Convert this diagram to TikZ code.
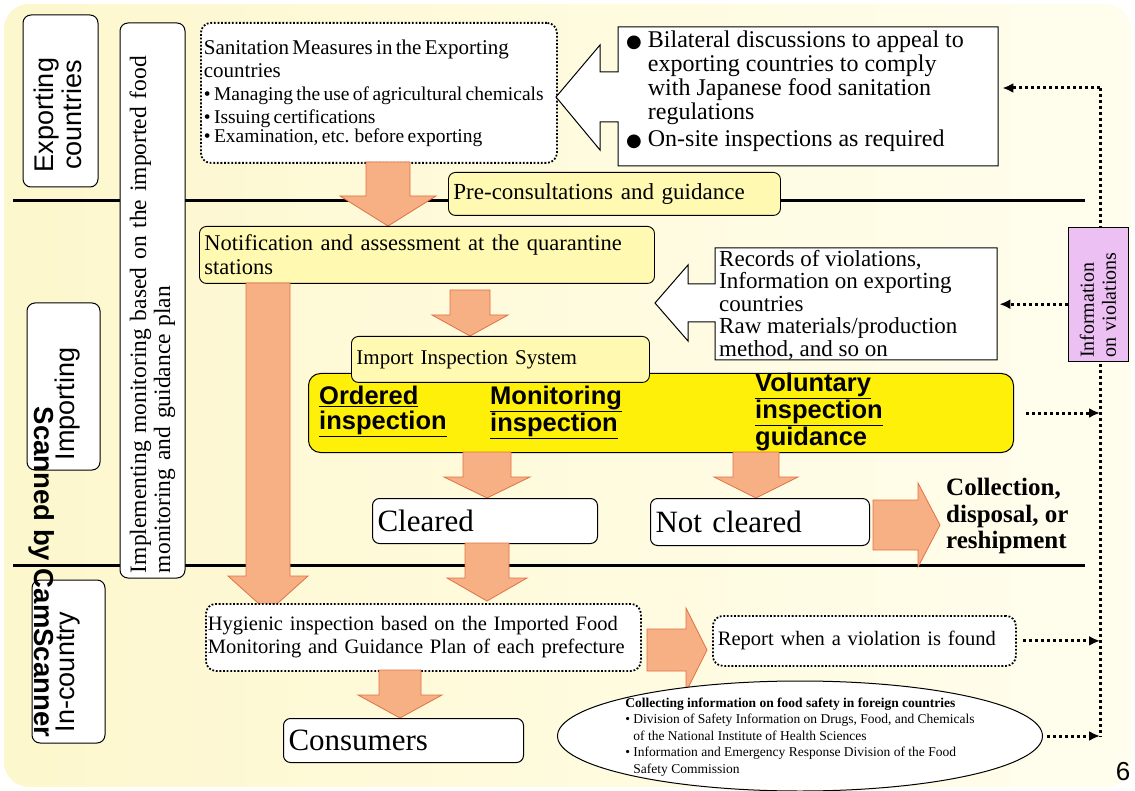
\documentclass[tikz,border=0pt]{standalone}
\usepackage{fontspec}
\setmainfont{Liberation Serif}
\setsansfont{Liberation Sans}
\newfontfamily\djv{DejaVu Sans}
\usetikzlibrary{arrows.meta,shapes.geometric}
\definecolor{bgA}{RGB}{253,247,205}
\definecolor{bgB}{RGB}{255,254,238}
\definecolor{lyel}{RGB}{255,249,178}
\definecolor{byel}{RGB}{255,240,10}
\definecolor{afill}{RGB}{246,176,132}
\definecolor{adraw}{RGB}{226,112,72}
\definecolor{pinkb}{RGB}{236,192,242}
\newcommand{\fsz}[2]{\fontsize{#1}{#2}\selectfont}
\newcommand{\dnarrow}[6]{\filldraw[barrow] ({#1-#5},#2) -- ({#1+#5},#2) -- ({#1+#5},#3) -- ({#1+#6},#3) -- (#1,#4) -- ({#1-#6},#3) -- ({#1-#5},#3) -- cycle;}
\newcommand{\rtarrow}[6]{\filldraw[barrow] (#2,{#1-#5}) -- (#3,{#1-#5}) -- (#3,{#1-#6}) -- (#4,#1) -- (#3,{#1+#6}) -- (#3,{#1+#5}) -- (#2,{#1+#5}) -- cycle;}
\tikzset{
  lane/.style={draw, rounded corners=8pt, fill=white, line width=1pt, inner sep=2pt},
  lanetxt/.style={rotate=90, inner sep=0pt, align=center, font=\sffamily\fsz{27}{28}},
  ybox/.style={draw, rounded corners=7pt, fill=lyel, line width=0.9pt, inner sep=4pt},
  wbox/.style={draw, rounded corners=7pt, fill=white, line width=1pt, inner sep=4pt},
  dbox/.style={draw, rounded corners=10pt, fill=white, line width=1.8pt, dash pattern=on 1.8pt off 1.8pt, inner sep=4pt},
  barrow/.style={fill=afill, draw=adraw, line width=0.8pt},
  dotline/.style={line width=3pt, dash pattern=on 3pt off 3pt},
  dotarrow/.style={dotline, -{Latex[length=11pt,width=10pt]}},
  plain/.style={inner sep=0pt, align=left},
  sect/.style={line width=3pt},
  insp/.style={plain, anchor=north west, font=\sffamily\bfseries\fsz{25.5}{24.5}},
}
\begin{document}
\begin{tikzpicture}[x=1pt,y=-1pt]
\path[use as bounding box] (0,0) rectangle (1135,791);
\shade[left color=bgA, right color=bgB, rounded corners=25pt] (4,4) rectangle (1131,787);

% section lines
\draw[sect] (13,201) -- (1085,201);
\draw[sect] (13,565) -- (1085,565);

% lane labels
\node[lane, minimum width=75, minimum height=172] (exp) at (60.5,101) {};
\node[lanetxt] (exptxt) at (58,115) {Exporting\\countries};
\node[lane, minimum width=73, minimum height=167] (imp) at (63.5,386.5) {};
\node[lanetxt] (imptxt) at (68,404) {Importing};
\node[lane, minimum width=73, minimum height=163] (inc) at (68.5,661.5) {};
\node[lanetxt] (inctxt) at (68,672) {In-country};

% watermark
\node[rotate=-90, inner sep=0pt, font=\sffamily\bfseries\fsz{27.5}{28}] (wm) at (42,572) {Scanned by CamScanner};

% implementing box
\node[lane, rotate=90, minimum width=555, minimum height=65, text width=545, align=left, inner sep=3pt, font=\fsz{23.5}{24}] (impl) at (152.5,300.5) {Implementing monitoring based on the imported food\\monitoring and guidance plan};

% sanitation
\node[dbox, anchor=north west, minimum width=356, minimum height=140, text width=350, align=left, inner sep=3pt] (san) at (200,22) {\fsz{21}{23}Sanitation Measures in the Exporting\\countries\\\fsz{19.5}{23}\textbullet\ Managing the use of agricultural chemicals\\\textbullet\ Issuing certifications\\\textbullet\ Examination, etc. before exporting};

% bilateral arrow box
\filldraw[fill=white, draw=black, line width=1pt] (998,27) -- (618,27) -- (618,72) -- (600,72) -- (600,45) -- (556,97) -- (600,150) -- (600,122) -- (618,122) -- (618,166) -- (998,166) -- cycle;
\node[plain, anchor=north west, minimum width=380, minimum height=139] (bil) at (618,27) {};
\node[plain, anchor=north west, font=\fsz{24}{23.5}] (biltxt) at (626,31) {\begin{tabular}{@{}l@{\hspace{6pt}}l@{}}{\djv\fsz{18}{23.5}●} & Bilateral discussions to appeal to\\ & exporting countries to comply\\ & with Japanese food sanitation\\ & regulations\\[4pt] {\djv\fsz{18}{23.5}●} & On-site inspections as required\end{tabular}};

% pre-consultation
\node[ybox, anchor=north west, minimum width=332, minimum height=43, text width=322, align=left, font=\fsz{23}{24}] (pre) at (448,172) {Pre-consultations and guidance};

% arrow sanitation -> notification
\dnarrow{388}{162}{196}{226}{22}{48}

% notification
\node[ybox, anchor=north west, minimum width=455, minimum height=57, text width=445, align=left, font=\fsz{22.5}{24}] (notif) at (199,226) {Notification and assessment at the quarantine\\stations};

% long arrow
\dnarrow{268}{283}{576}{612}{22}{40}

% arrow notification -> import
\dnarrow{470}{290}{315}{336}{20}{38}

% records box with arrow
\filldraw[fill=white, draw=black, line width=1pt] (997,248) -- (715,248) -- (715,284) -- (688,284) -- (688,265) -- (655,303) -- (688,341) -- (688,322) -- (715,322) -- (715,360) -- (997,360) -- cycle;
\node[plain, anchor=north west, minimum width=282, minimum height=112] (rec) at (715,248) {};
\node[plain, anchor=north west, font=\fsz{23}{22.5}] (rectxt) at (719,250) {Records of violations,\\Information on exporting\\countries\\Raw materials/production\\method, and so on};

% big yellow box
\node[draw, rounded corners=12pt, fill=byel, line width=1pt, anchor=north west, minimum width=705, minimum height=79] (big) at (308,373) {};
\node[ybox, anchor=north west, minimum width=298, minimum height=46, text width=288, align=left, font=\fsz{21}{22}] (iis) at (351,336) {Import Inspection System};
\node[insp] (ord) at (319,386) {\underline{Ordered}\\\underline{inspection}};
\node[insp] (mon) at (490,386) {\underline{Monitoring}\\\underline{inspection}};
\node[insp] (vol) at (755,373) {\underline{Voluntary}\\\underline{inspection}\\\underline{guidance}};

% arrows to cleared / not cleared
\dnarrow{487}{452}{477}{498}{24}{43}
\dnarrow{756}{452}{477}{498}{23}{42}

\node[wbox, anchor=north west, minimum width=225, minimum height=45, text width=215, align=left, font=\fsz{31}{31}] (clr) at (372,498) {Cleared};
\node[wbox, anchor=north west, minimum width=219, minimum height=47, text width=209, align=left, font=\fsz{31}{31}] (ncl) at (650,498) {Not cleared};

% not cleared -> collection
\rtarrow{525}{873}{918}{940}{25}{42}
\node[plain, anchor=north west, font=\bfseries\fsz{25}{26.5}] (col) at (946,478) {Collection,\\disposal, or\\reshipment};

% cleared -> hygienic
\dnarrow{487}{543}{578}{601}{22}{40}

\node[dbox, anchor=north west, minimum width=435, minimum height=67, text width=431, align=left, inner sep=2pt, font=\fsz{20.5}{23}] (hyg) at (205,603) {Hygienic inspection based on the Imported Food\\Monitoring and Guidance Plan of each prefecture};

% hygienic -> report
\rtarrow{650}{647}{686}{707}{21}{42}
\node[dbox, anchor=north west, minimum width=303, minimum height=50, text width=293, align=left, font=\fsz{20.5}{22}] (rep) at (712,615) {Report when a violation is found};

% hygienic -> consumers
\dnarrow{400}{670}{695}{718}{21}{42}
\node[wbox, anchor=north west, minimum width=240, minimum height=44, text width=230, align=left, font=\fsz{31}{31}] (con) at (283,718) {Consumers};

% ellipse
\node[ellipse, draw, fill=white, line width=1pt, minimum width=485, minimum height=110] (ell) at (800,736) {};
\node[plain, font=\fsz{13.5}{16.5}] (elltxt) at (800,737) {{\bfseries Collecting information on food safety in foreign countries}\\\textbullet\ Division of Safety Information on Drugs, Food, and Chemicals\\\hphantom{\textbullet\ }of the National Institute of Health Sciences\\\textbullet\ Information and Emergency Response Division of the Food\\\hphantom{\textbullet\ }Safety Commission};

% violation info
\coordinate (vtop) at (1100,88);
\coordinate (vbot) at (1100,737);
\draw[dotline] (vtop) -- (vbot);
\node[draw, fill=pinkb, line width=1pt, rotate=90, minimum width=134, minimum height=60, text width=126, align=left, inner sep=2pt, font=\fsz{20}{22}] (info) at (1098,295) {Information\\on violations};

\draw[dotarrow] (vtop) -- ([xshift=4pt]bil.east |- vtop);
\draw[dotarrow] (info.north |- rec.east) -- ([xshift=2pt]rec.east);
\draw[dotarrow] ([xshift=12pt]big.east) -- (vtop |- big.east);
\draw[dotarrow] ([xshift=6pt]rep.east) -- (vtop |- rep.east);
\draw[dotarrow] ([xshift=4pt]ell.east) -- (vtop |- ell.east);

% page number
\node[font=\sffamily\fsz{26}{26}] (pg) at (1123,772) {6};
\end{tikzpicture}
\end{document}
